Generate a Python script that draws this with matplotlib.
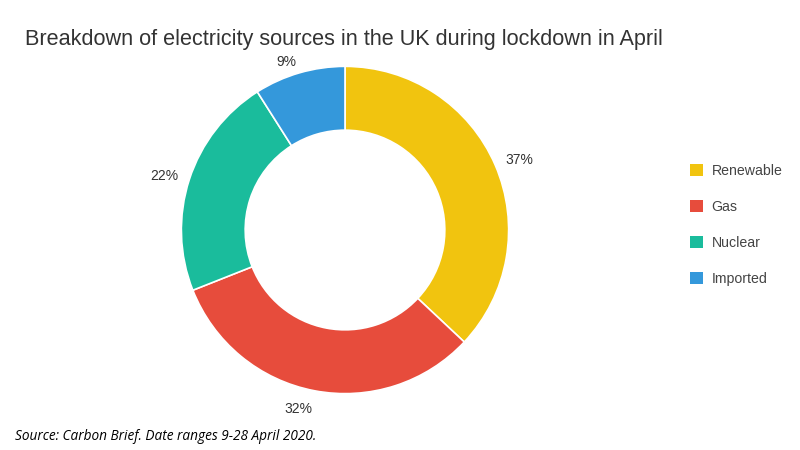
import numpy as np
import matplotlib.pyplot as plt
from matplotlib.patches import Patch

labels = ["Renewable", "Gas", "Nuclear", "Imported"]
values = [37, 32, 22, 9]
colors = ["#F1C40F", "#E74C3C", "#1ABC9C", "#3498DB"]

title = "Breakdown of electricity sources in the UK during lockdown in April"
source = "Source: Carbon Brief. Date ranges 9-28 April 2020."

plt.rcParams["font.family"] = ["Liberation Sans", "DejaVu Sans"]

fig = plt.figure(figsize=(8, 4.5), dpi=100)
ax = fig.add_axes([0.20625, 0.0889, 0.45, 0.8])

wedges, texts = ax.pie(
    values,
    colors=colors,
    startangle=90,
    counterclock=False,
    radius=1.0,
    wedgeprops=dict(width=0.39, edgecolor="white", linewidth=1.2),
)
ax.set_xlim(-1.1, 1.1)
ax.set_ylim(-1.1, 1.1)
ax.set_aspect("equal")

# percentage labels outside the ring
total = sum(values)
for w, v in zip(wedges, values):
    ang = np.deg2rad((w.theta1 + w.theta2) / 2)
    x, y = np.cos(ang) * 1.07, np.sin(ang) * 1.07
    ax.text(x, y, f"{v / total * 100:.0f}%", fontsize=10, color="#333333",
            ha="left" if x > 0 else "right",
            va="top" if y < -0.9 else "center")

fig.text(25 / 800, 1 - 40 / 450, title, fontsize=15.6, color="#333333",
         va="center", ha="left")

fig.text(15 / 800, 1 - 437 / 450, source, fontsize=9.8, style="italic",
         family=["Open Sans", "DejaVu Sans"], color="black",
         va="center", ha="left")

handles = [Patch(facecolor=c, edgecolor="none") for c in colors]
fig.legend(handles, labels, loc="upper left",
           bbox_to_anchor=(677 / 800, 1 - 151 / 450),
           frameon=False, fontsize=10.2, handlelength=0.95, handleheight=0.95,
           handletextpad=0.6, labelspacing=1.55, labelcolor="#444444")

fig.savefig("out.png", dpi=100)
